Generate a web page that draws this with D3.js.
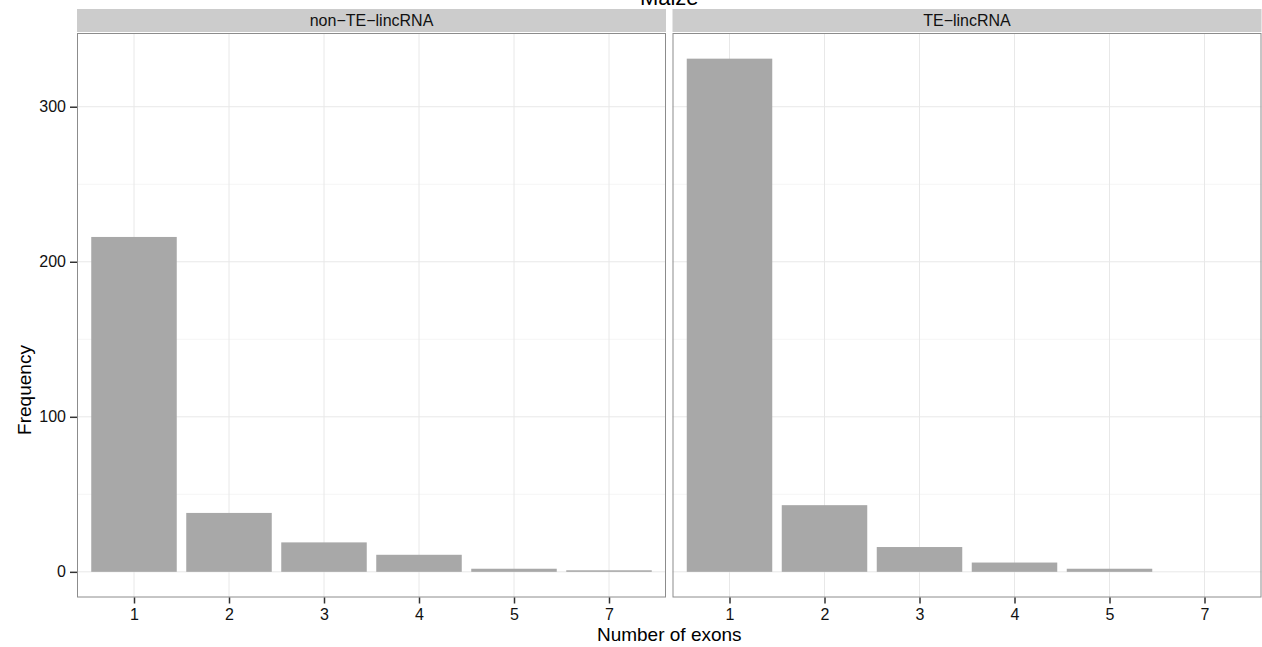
<!DOCTYPE html>
<html>
<head>
<meta charset="utf-8">
<script src="https://cdn.jsdelivr.net/npm/d3@7/dist/d3.min.js"></script>
<style>
  html, body { margin: 0; padding: 0; background: #fff; }
  svg { display: block; font-family: "Liberation Sans", Arial, Helvetica, sans-serif; }
</style>
</head>
<body>
<svg id="chart" width="1262" height="647"></svg>
<script>
// Exon-count frequencies of maize lincRNAs, split by TE association
const categories = ["1", "2", "3", "4", "5", "7"];
const panels = ["non\u2212TE\u2212lincRNA", "TE\u2212lincRNA"];
const nonTeCounts = [216, 38, 19, 11, 2, 1];
const teCounts = [331, 43, 16, 6, 2, 0];
const yTicks = [0, 100, 200, 300];
const yMinor = [50, 150, 250];

const seriesByPanel = [nonTeCounts, teCounts];

const svg = d3.select("#chart");
const panelTop = 33, panelBottom = 597.5;
const panelWidth = 589;
const panelLefts = [77, 672.5];
const stripTop = 9, stripBottom = 32;

const maxVal = d3.max(seriesByPanel.flat());
const pad = maxVal * 0.05;
const y = d3.scaleLinear().domain([-pad, maxVal + pad]).range([panelBottom, panelTop]);

// Title
svg.append("text")
  .attr("x", (panelLefts[0] + panelLefts[1] + panelWidth) / 2)
  .attr("y", 5)
  .attr("text-anchor", "middle")
  .attr("font-size", 22)
  .attr("fill", "#000")
  .text("Maize");

panels.forEach((name, i) => {
  const x0 = panelLefts[i];
  const values = seriesByPanel[i];
  // discrete scale with 0.6 unit expansion on each side
  const unit = panelWidth / (categories.length - 1 + 1.2);
  const xPos = d3.scalePoint().domain(categories)
    .range([x0 + 0.6 * unit, x0 + panelWidth - 0.6 * unit]);
  const barW = unit * 0.9;

  const g = svg.append("g");

  g.append("rect").attr("x", x0).attr("y", panelTop)
    .attr("width", panelWidth).attr("height", panelBottom - panelTop)
    .attr("fill", "#fff");

  // minor horizontal gridlines
  g.selectAll(".minor").data(yMinor).join("line")
    .attr("x1", x0).attr("x2", x0 + panelWidth)
    .attr("y1", d => y(d)).attr("y2", d => y(d))
    .attr("stroke", "#f5f5f5").attr("stroke-width", 1);

  // major horizontal gridlines
  g.selectAll(".major").data(yTicks).join("line")
    .attr("x1", x0).attr("x2", x0 + panelWidth)
    .attr("y1", d => y(d)).attr("y2", d => y(d))
    .attr("stroke", "#e8e8e8").attr("stroke-width", 1);

  // vertical gridlines
  g.selectAll(".vgrid").data(categories).join("line")
    .attr("x1", d => xPos(d)).attr("x2", d => xPos(d))
    .attr("y1", panelTop).attr("y2", panelBottom)
    .attr("stroke", "#e8e8e8").attr("stroke-width", 1);

  // bars
  g.selectAll(".bar").data(categories.map((c, k) => ({ c, v: values[k] })).filter(d => d.v > 0))
    .join("rect")
    .attr("x", d => xPos(d.c) - barW / 2)
    .attr("width", barW)
    .attr("y", d => y(d.v))
    .attr("height", d => y(0) - y(d.v))
    .attr("fill", "#a8a8a8");

  // panel border
  g.append("rect").attr("x", x0 + 0.5).attr("y", panelTop + 0.5)
    .attr("width", panelWidth - 1).attr("height", panelBottom - panelTop - 1)
    .attr("fill", "none").attr("stroke", "#8c8c8c").attr("stroke-width", 1);

  // strip
  g.append("rect").attr("x", x0).attr("y", stripTop)
    .attr("width", panelWidth).attr("height", stripBottom - stripTop)
    .attr("fill", "#cccccc");
  g.append("text")
    .attr("x", x0 + panelWidth / 2).attr("y", (stripTop + stripBottom) / 2 + 5.5)
    .attr("text-anchor", "middle").attr("font-size", 16).attr("fill", "#111")
    .text(name);

  // x axis
  const xAxis = g.append("g").attr("transform", `translate(0,${panelBottom})`)
    .call(d3.axisBottom(xPos).tickSize(6).tickPadding(5));
  xAxis.select(".domain").remove();
  xAxis.selectAll(".tick line").attr("stroke", "#333").attr("stroke-width", 1.5);
  xAxis.selectAll(".tick text").attr("font-size", 16).attr("fill", "#111")
    .attr("font-family", "Liberation Sans, Arial, sans-serif");
});

// y axis (left panel only)
const yAxis = svg.append("g").attr("transform", `translate(${panelLefts[0]},0)`)
  .call(d3.axisLeft(y).tickValues(yTicks).tickSize(7).tickPadding(4));
yAxis.select(".domain").remove();
yAxis.selectAll(".tick line").attr("stroke", "#333").attr("stroke-width", 1.5);
yAxis.selectAll(".tick text").attr("font-size", 16).attr("fill", "#111")
  .attr("font-family", "Liberation Sans, Arial, sans-serif");

// axis titles
svg.append("text")
  .attr("x", (panelLefts[0] + panelLefts[1] + panelWidth) / 2)
  .attr("y", 641)
  .attr("text-anchor", "middle").attr("font-size", 19).attr("fill", "#000")
  .text("Number of exons");

svg.append("text")
  .attr("transform", "translate(31,390) rotate(-90)")
  .attr("text-anchor", "middle").attr("font-size", 19).attr("fill", "#000")
  .text("Frequency");
</script>
</body>
</html>
